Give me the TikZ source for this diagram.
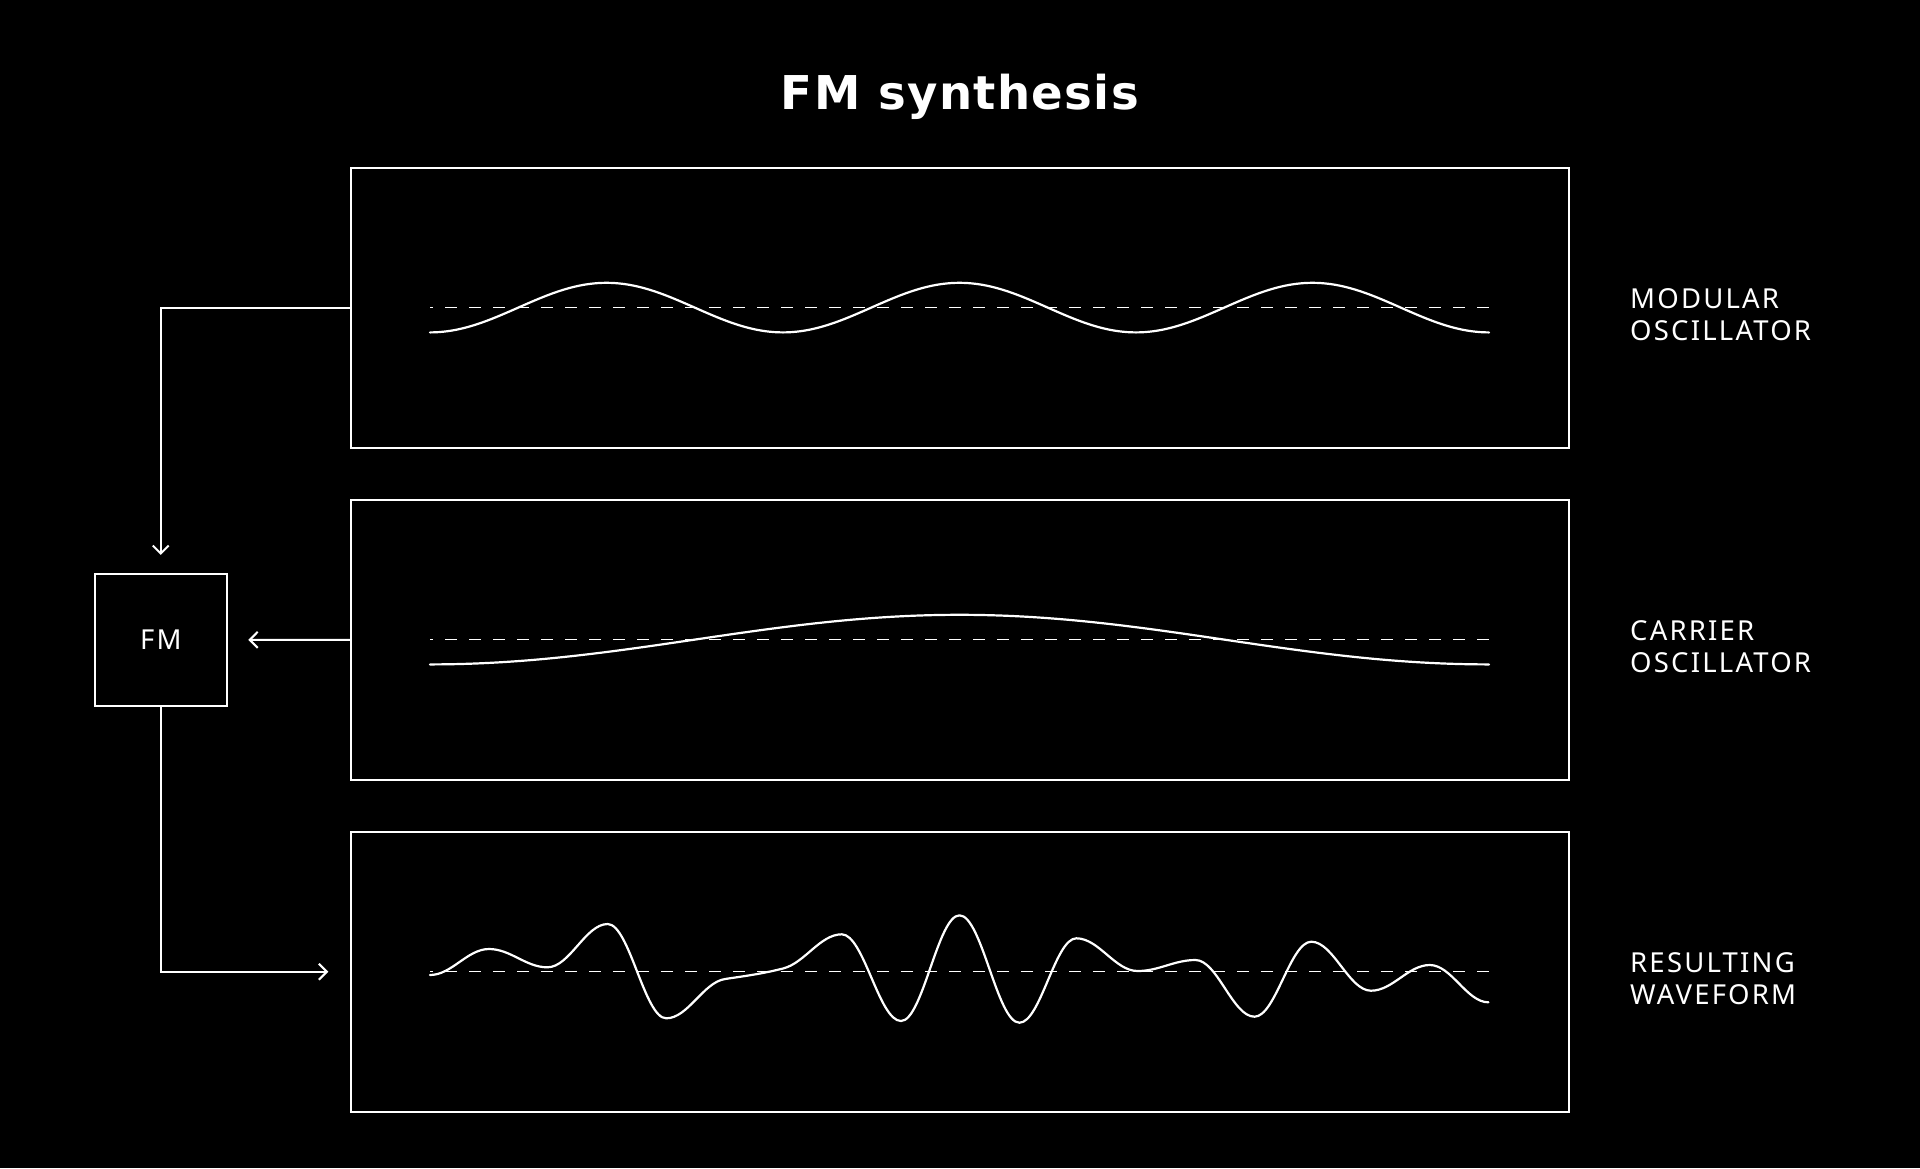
\documentclass[tikz,border=0pt]{standalone}
\usepackage{fontspec}
\setmainfont{Noto Sans}
\newfontfamily\labelfont{Noto Sans}[LetterSpace=8]
\newfontfamily\titlefont{DejaVu Sans}[LetterSpace=3]
\usetikzlibrary{arrows.meta,calc}
\begin{document}
\begin{tikzpicture}[x=1pt,y=-1pt,
  frame/.style={draw=white, line width=2pt, minimum width=1217.8pt, minimum height=279.5pt, inner sep=0pt, outer sep=0pt},
  fmbox/.style={draw=white, line width=2pt, minimum size=132.5pt, inner sep=0pt, outer sep=0pt, text=white, font=\labelfont\fontsize{27.5}{32}\selectfont},
  conn/.style={draw=white, line width=2pt},
  arr/.style={-{Straight Barb[length=8pt,width=16pt]}},
  zeroline/.style={draw=white, line width=1.4pt, dash pattern=on 12pt off 12pt, dash phase=9pt},
  wave/.style={draw=white, line width=2.2pt, line cap=round, line join=round},
  side/.style={anchor=base west, text=white, font=\labelfont\fontsize{27.5}{31.7}\selectfont, align=left, inner sep=0pt}
]
\fill[black] (0,0) rectangle (1920,1168);
\useasboundingbox (0,0) rectangle (1920,1168);

\node[anchor=base, text=white, font=\titlefont\bfseries\fontsize{46.6}{56}\selectfont, inner sep=0pt] (title) at (960,109.3) {FM synthesis};

\node[frame] (box1) at (959.8,307.75) {};
\node[frame] (box2) at (959.8,639.75) {};
\node[frame] (box3) at (959.8,971.75) {};
\node[fmbox] (fm) at (160.75,639.9) {FM};

\node[side] (lab1) at (1630,340) {MODULAR\\OSCILLATOR};
\node[side] (lab2) at (1630,672) {CARRIER\\OSCILLATOR};
\node[side] (lab3) at (1630,1004) {RESULTING\\WAVEFORM};

% connectors
\draw[conn,arr,shorten >=18.7pt] (box1.west) -| (fm.north);
\draw[conn,arr,shorten >=21.3pt] (box2.west) -- (fm.east);
\draw[conn,arr,shorten >=22.6pt] (fm.south) |- (box3.west);

% zero lines
\draw[zeroline] (430,307.75) -- (1489,307.75);
\draw[zeroline] (430,639.75) -- (1489,639.75);
\draw[zeroline] (430,971.75) -- (1489,971.75);

% modulator wave
\draw[wave] plot[domain=430:1489, samples=241, smooth] (\x,{307.6+24.8*cos(1.019830*(\x-430))});
% carrier wave
\draw[wave] plot[domain=430:1489, samples=161, smooth] (\x,{639.6+24.8*cos(0.339943*(\x-430))});
% resulting waveform
\draw[wave] (430,975) .. controls (451.8,975) and (467.2,949) .. (489,949)
  .. controls (510.6,949) and (525.8,967.3) .. (547.4,967.3)
  .. controls (569.7,967.3) and (585.4,924) .. (607.7,924)
  .. controls (629.3,924) and (644.6,1018.3) .. (666.2,1018.3)
  .. controls (688,1018.3) and (703.2,982.3) .. (725,979)
  .. controls (746.5,975.8) and (761.5,973.9) .. (783,968.5)
  .. controls (804.8,963.05) and (820,934.3) .. (841.8,934.3)
  .. controls (863.7,934.3) and (879.1,1021) .. (901,1021)
  .. controls (922.6,1021) and (937.9,915.3) .. (959.5,915.3)
  .. controls (981.7,915.3) and (997.2,1022.7) .. (1019.4,1022.7)
  .. controls (1040.5,1022.7) and (1055.2,938.3) .. (1076.3,938.3)
  .. controls (1099,938.3) and (1114.9,971) .. (1137.6,971)
  .. controls (1159,971) and (1174.1,960) .. (1195.5,960)
  .. controls (1217.3,960) and (1232.7,1016.7) .. (1254.5,1016.7)
  .. controls (1275.5,1016.7) and (1290.3,941.7) .. (1311.3,941.7)
  .. controls (1333.4,941.7) and (1348.9,990.7) .. (1371,990.7)
  .. controls (1392.8,990.7) and (1408,965) .. (1429.8,965)
  .. controls (1451.5,965) and (1466.7,1002.3) .. (1488.4,1002.3);
\end{tikzpicture}
\end{document}
